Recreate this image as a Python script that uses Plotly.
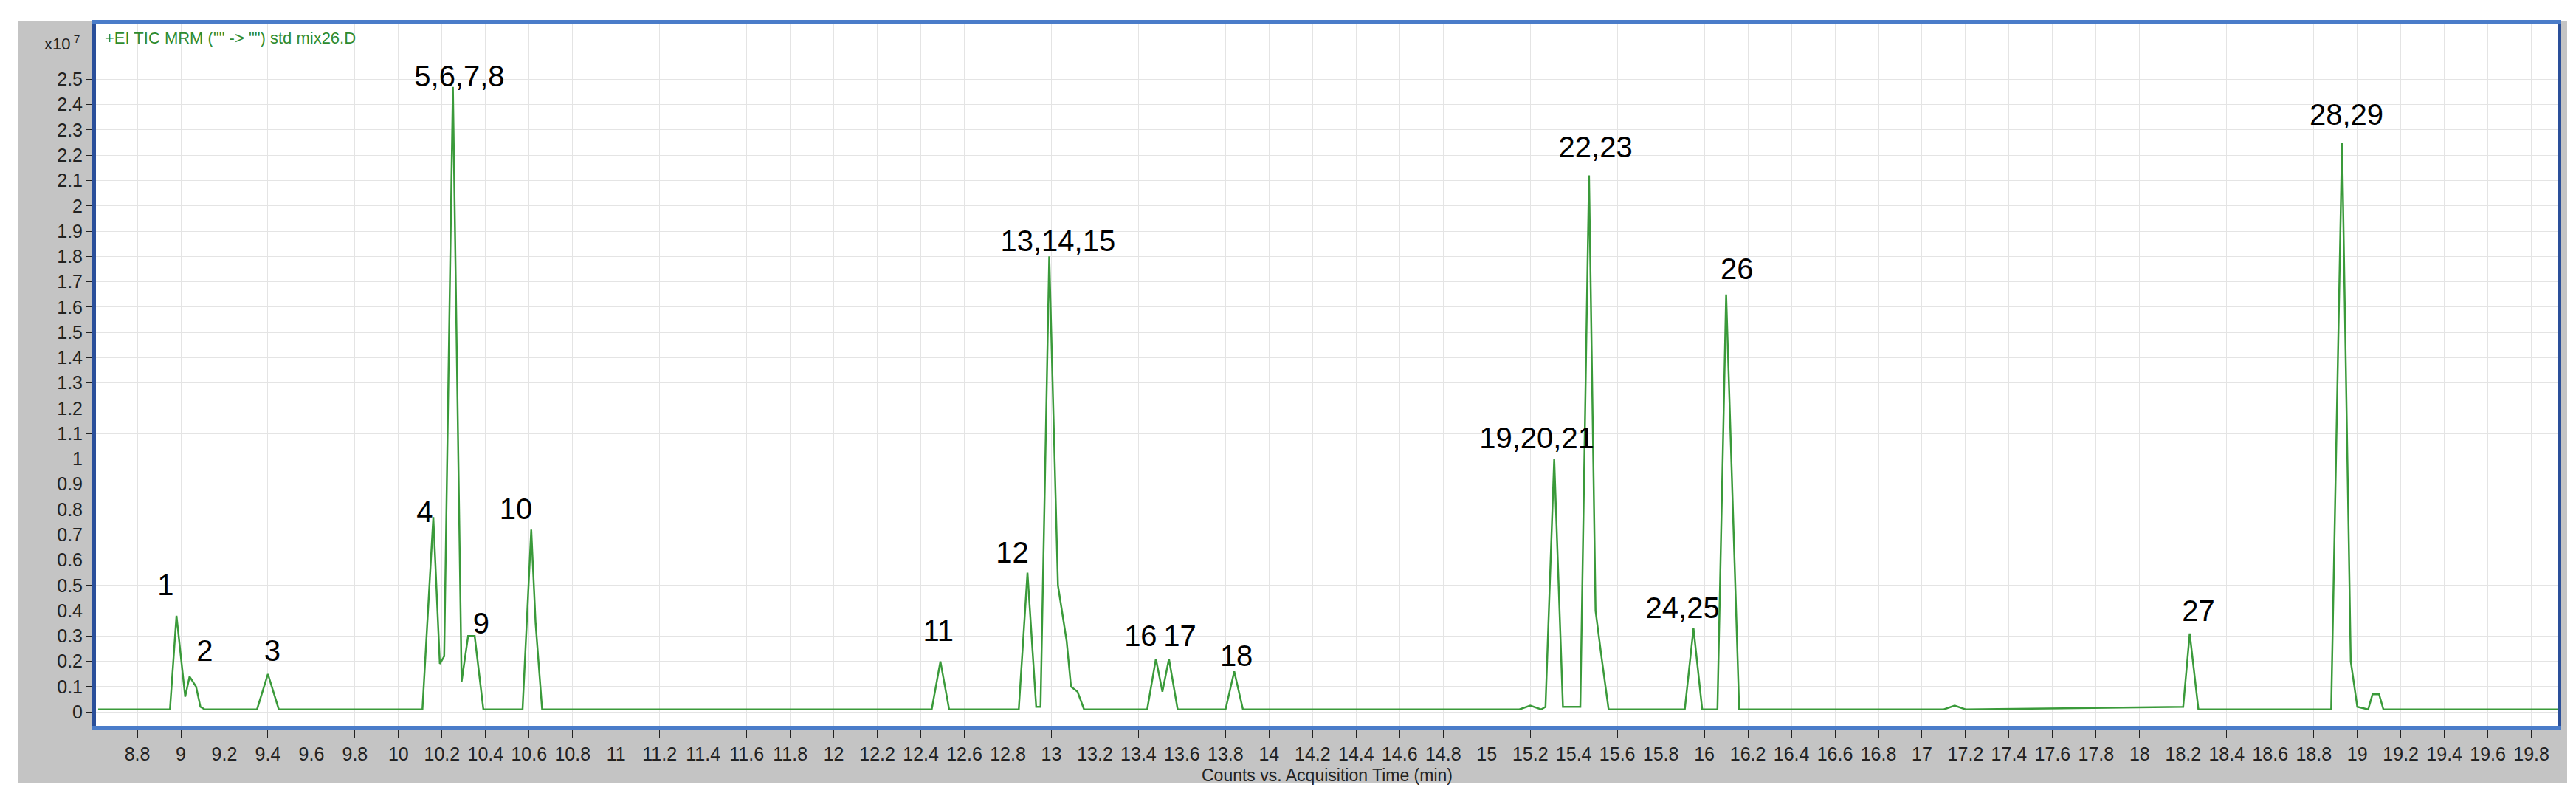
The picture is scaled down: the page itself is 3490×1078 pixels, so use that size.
import plotly.graph_objects as go

times = [8.62,8.95,8.98,9.02,9.04,9.07,9.09,9.11,9.35,9.40,9.45,10.11,10.16,10.19,10.21,10.25,10.29,10.32,10.35,10.39,
         10.57,10.61,10.63,10.66,12.45,12.49,12.53,12.85,12.89,12.93,12.95,12.99,13.03,13.07,13.09,13.12,13.15,
         13.44,13.48,13.51,13.54,13.58,13.80,13.84,13.88,15.15,15.20,15.25,15.27,15.31,15.35,15.43,15.47,15.50,15.53,15.56,
         15.91,15.95,15.99,16.06,16.10,16.13,16.16,17.10,17.15,17.20,18.15,18.20,18.23,18.27,18.88,18.93,18.97,19.00,
         19.05,19.07,19.10,19.12,19.92]
counts = [0.01,0.01,0.38,0.06,0.14,0.10,0.02,0.01,0.01,0.15,0.01,0.01,0.77,0.19,0.22,2.47,0.12,0.30,0.30,0.01,
          0.01,0.72,0.35,0.01,0.01,0.20,0.01,0.01,0.55,0.02,0.02,1.80,0.50,0.28,0.10,0.08,0.01,
          0.01,0.21,0.08,0.21,0.01,0.01,0.16,0.01,0.01,0.025,0.01,0.02,1.00,0.02,0.02,2.12,0.40,0.20,0.01,
          0.01,0.33,0.01,0.01,1.65,0.80,0.01,0.01,0.025,0.01,0.02,0.02,0.31,0.01,0.01,2.25,0.20,0.02,
          0.01,0.07,0.07,0.01,0.01]

peak_labels = ["1","2","3","4","5,6,7,8","9","10","11","12","13,14,15","16","17","18",
               "19,20,21","22,23","24,25","26","27","28,29"]
label_x = [8.93,9.11,9.42,10.12,10.28,10.38,10.54,12.48,12.82,13.03,13.41,13.59,13.85,15.23,15.50,15.90,16.15,18.27,18.95]
label_y = [0.49,0.23,0.23,0.78,2.50,0.34,0.79,0.31,0.62,1.85,0.29,0.29,0.21,1.07,2.22,0.40,1.74,0.39,2.35]

xticks = [round(8.8 + 0.2*i, 1) for i in range(56)]
yticks = [round(0.1*i, 1) for i in range(26)]

PW, PH = 3335, 951
def white(x0, x1, y0, y1):
    return dict(type="rect", xref="paper", yref="paper", layer="below",
                x0=x0, x1=x1, y0=y0, y1=y1, fillcolor="white", line=dict(width=0))

fig = go.Figure()
fig.add_trace(go.Scatter(x=times, y=counts, mode="lines", line=dict(color="#3a9a3a", width=2.5), hoverinfo="skip"))
fig.add_trace(go.Scatter(x=label_x, y=label_y, mode="text", text=peak_labels,
                         textfont=dict(family="Liberation Sans", size=40, color="black"), hoverinfo="skip"))

fig.update_layout(
    width=3490, height=1078, showlegend=False,
    margin=dict(l=122, r=33, t=24, b=103),
    paper_bgcolor="#c4c4c4", plot_bgcolor="white",
    shapes=[
        white(-0.1, -105/PW, -0.2, 1.1),
        white(1+13/PW, 1.1, -0.2, 1.1),
        white(-0.1, 1.1, -0.2, -78/PH),
        white(-0.1, 1.1, 1+3/PH, 1.1),
    ],
    annotations=[
        dict(text="+EI TIC MRM (\"\" -> \"\") std mix26.D", xref="paper", yref="paper", x=0.003, y=0.995,
             xanchor="left", yanchor="top", showarrow=False,
             font=dict(family="Liberation Sans", size=22, color="#2e8b2e")),
        dict(text="x10<sup> 7</sup>", xref="paper", yref="paper", x=-0.006, y=0.99,
             xanchor="right", yanchor="top", showarrow=False,
             font=dict(family="Liberation Sans", size=22, color="#222")),
        dict(text="Counts vs. Acquisition Time (min)", xref="paper", yref="paper", x=0.5, y=-0.055,
             xanchor="center", yanchor="top", showarrow=False,
             font=dict(family="Liberation Sans", size=23, color="#222")),
    ],
)
fig.update_xaxes(range=[8.61, 19.92], tickvals=xticks, ticktext=[f"{v:g}" for v in xticks],
                 ticks="outside", ticklen=12, tickcolor="#222", showgrid=True, gridcolor="#e4e4e4",
                 showline=True, linecolor="#4a7cc9", linewidth=5, mirror=True, zeroline=False,
                 tickfont=dict(family="Liberation Sans", size=25, color="#222"))
fig.update_yaxes(range=[-0.055, 2.72], tickvals=yticks, ticktext=[f"{v:g}" for v in yticks],
                 ticks="outside", ticklen=8, tickcolor="#222", showgrid=True, gridcolor="#e4e4e4",
                 showline=True, linecolor="#2a4f9a", linewidth=5, mirror=True, zeroline=False,
                 tickfont=dict(family="Liberation Sans", size=25, color="#222"))
fig.write_html("out.html")
